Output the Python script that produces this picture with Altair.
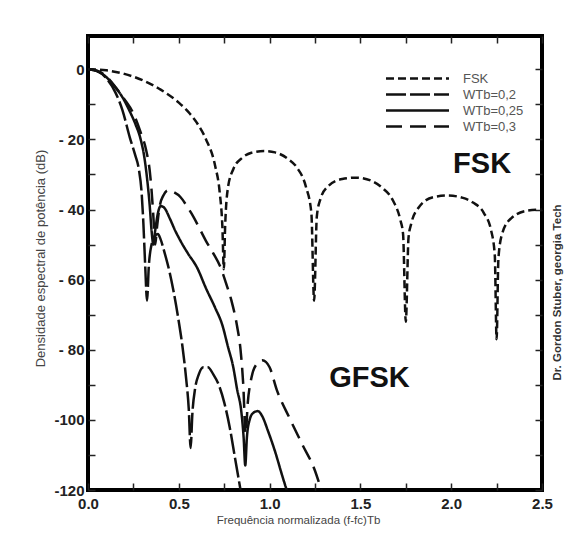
import altair as alt
import pandas as pd

series_names = ["FSK", "WTb=0,2", "WTb=0,25", "WTb=0,3"]

fsk_x = [0.0, 0.1, 0.2, 0.3, 0.4, 0.5, 0.55, 0.6, 0.65, 0.7, 0.725, 0.74, 0.748, 0.755, 0.77,
         0.8, 0.85, 0.9, 0.97, 1.03, 1.1, 1.15, 1.2, 1.23, 1.245, 1.26, 1.28, 1.32, 1.4, 1.48,
         1.56, 1.62, 1.68, 1.72, 1.735, 1.75, 1.765, 1.78, 1.82, 1.9, 1.98, 2.06, 2.12, 2.18,
         2.22, 2.24, 2.25, 2.26, 2.28, 2.33, 2.42, 2.5]
fsk_y = [0, -0.3, -1.3, -3.1, -5.8, -9.5, -12, -15.3, -20, -27.5, -35, -45, -57, -45, -34,
         -28.5, -25.2, -23.8, -23.3, -23.7, -25.5, -28, -33.5, -41, -66, -42, -37, -33.5, -31.3, -30.9,
         -31.8, -33.8, -37.5, -43, -47, -72, -48, -44, -39.5, -36.5, -36, -36.6, -38, -41,
         -46, -53, -77, -54, -47, -42.5, -40.3, -40]

g20_x = [0.0, 0.05, 0.1, 0.15, 0.19, 0.23, 0.26, 0.28, 0.295, 0.305, 0.315, 0.325, 0.335, 0.35,
         0.37, 0.385, 0.4, 0.42, 0.45, 0.47, 0.5, 0.52, 0.54, 0.555, 0.565, 0.575, 0.59, 0.61,
         0.635, 0.66, 0.69, 0.72, 0.75, 0.78, 0.81, 0.84]
g20_y = [0, -0.5, -2.5, -6.5, -11.7, -19.4, -24.5, -28.5, -35, -44, -56, -66, -56, -50,
         -47.5, -47, -48.5, -52, -58, -63, -72, -79, -88, -97, -108, -98, -91, -87,
         -85, -85, -87, -90, -95, -102, -111, -120]

g25_x = [0.0, 0.05, 0.1, 0.14, 0.19, 0.23, 0.26, 0.29, 0.31, 0.325, 0.34, 0.35, 0.36, 0.37,
         0.385, 0.4, 0.42, 0.45, 0.48, 0.51, 0.55, 0.6, 0.65, 0.7, 0.74, 0.77, 0.8, 0.82,
         0.845, 0.857, 0.866, 0.875, 0.89, 0.91, 0.935, 0.96, 0.99, 1.03, 1.07, 1.1]
g25_y = [0, -0.5, -2.2, -4.5, -8, -12, -15.5, -20, -25, -31, -39, -46, -50, -46,
         -41, -39, -39.5, -42.5, -46, -49, -52.5, -56.5, -62.5, -68, -73, -79, -85, -91,
         -98, -105, -113, -105, -100, -98, -97.5, -99, -103, -109, -116, -121]

g30_x = [0.0, 0.05, 0.1, 0.15, 0.2, 0.25, 0.29, 0.32, 0.34, 0.35, 0.36, 0.37, 0.38, 0.395,
         0.415, 0.44, 0.47, 0.51, 0.55, 0.58, 0.62, 0.65, 0.69, 0.73, 0.76, 0.79, 0.82, 0.84,
         0.855, 0.868, 0.88, 0.9, 0.93, 0.96, 1.0, 1.04, 1.11, 1.18, 1.25, 1.29]
g30_y = [0, -0.4, -2, -5, -8.5, -12.6, -18, -23, -29, -34.5, -42, -50, -45, -39,
         -36, -34.5, -35, -36.5, -39.5, -42, -46, -49, -52.5, -56.5, -61, -66, -73, -80,
         -90, -104, -95, -88, -84, -83, -85, -91.5, -99.5, -107, -114.5, -121]

annot_text = ["FSK", "GFSK"]
annot_x = [2.17, 1.55]
annot_y = [-27, -88]

x_tick_values = [0.0, 0.25, 0.5, 0.75, 1.0, 1.25, 1.5, 1.75, 2.0, 2.25, 2.5]
y_tick_values = [-120, -110, -100, -90, -80, -70, -60, -50, -40, -30, -20, -10, 0]

rows = []
for name, xs, ys in zip(series_names, [fsk_x, g20_x, g25_x, g30_x], [fsk_y, g20_y, g25_y, g30_y]):
    for i, (a, b) in enumerate(zip(xs, ys)):
        rows.append({"serie": name, "f": a, "db": b, "ordem": i})
df = pd.DataFrame(rows)
ann = pd.DataFrame({"txt": annot_text, "f": annot_x, "db": annot_y})

FONT = "Liberation Sans, Arial, sans-serif"
xscale = alt.Scale(domain=[0, 2.5], nice=False, zero=False)
yscale = alt.Scale(domain=[-120, 9.5], nice=False, zero=False)

x_bottom = alt.Axis(
    orient="bottom", values=x_tick_values, offset=-7, tickSize=7, tickWidth=1.5, tickColor="#222",
    domain=False, grid=False, labelOverlap=False, labelFlush=False,
    labelExpr="(round(datum.value*4) % 2 == 1) ? '' : format(datum.value, '.1f')",
    labelPadding=13, labelBaseline="middle", labelFont=FONT, labelFontSize=15,
    labelFontWeight="bold", labelColor="#222",
    title="Frequência normalizada (f-fc)Tb", titleX=210, titleY=37, titleBaseline="middle",
    titleAlign="center", titleFont=FONT, titleFontSize=11.5, titleFontWeight="normal",
    titleColor="#444",
)
y_left = alt.Axis(
    orient="left", values=y_tick_values, offset=-7, tickSize=7, tickWidth=1.5, tickColor="#222",
    domain=False, grid=False, labelOverlap=False,
    labelExpr="(datum.value % 20 != 0) ? '' : (datum.value == 0 ? '0' : (datum.value > -100 ? '- ' + format(abs(datum.value), 'd') : '-' + format(abs(datum.value), 'd')))",
    labelPadding=4, labelFont=FONT, labelFontSize=15, labelFontWeight="bold", labelColor="#222",
    title="Densidade espectral de potência (dB)", titleX=-55, titleY=222, titleAngle=270,
    titleBaseline="middle", titleAlign="center", titleFont=FONT, titleFontSize=13,
    titleFontWeight="normal", titleColor="#444",
)
x_top = alt.Axis(
    orient="top", values=x_tick_values, offset=-7, tickSize=7, tickWidth=1.5, tickColor="#222",
    domain=False, grid=False, labels=False, title=None,
)
y_right = alt.Axis(
    orient="right", values=y_tick_values, offset=-7, tickSize=7, tickWidth=1.5, tickColor="#222",
    domain=False, grid=False, labels=False,
    title="Dr. Gordon Stuber, georgia Tech", titleX=22, titleY=256, titleAngle=270,
    titleBaseline="middle", titleAlign="center", titleFont=FONT, titleFontSize=11.5,
    titleFontWeight="bold", titleColor="#333",
)

lines = alt.Chart(df).mark_line(color="#111", clip=True, interpolate="monotone").encode(
    x=alt.X("f:Q", scale=xscale, axis=x_bottom),
    y=alt.Y("db:Q", scale=yscale, axis=y_left),
    detail="serie:N",
    order="ordem:Q",
    strokeDash=alt.StrokeDash(
        "serie:N",
        scale=alt.Scale(domain=series_names, range=[[8, 4], [20, 4], [1, 0], [16, 8]]),
        legend=alt.Legend(
            title=None, orient="none", legendX=321, legendY=34,
            symbolType="M-4.5,0H4.5", symbolSize=196, symbolStrokeWidth=3,
            symbolStrokeColor="#111", labelOffset=37, labelFont=FONT, labelFontSize=13,
            labelColor="#555", rowPadding=0, padding=0,
        ),
    ),
    strokeWidth=alt.StrokeWidth(
        "serie:N", scale=alt.Scale(domain=series_names, range=[2.5, 2.5, 2, 2.5]), legend=None
    ),
)

text = alt.Chart(ann).mark_text(
    font=FONT, fontSize=29, fontWeight="bold", color="#111", align="center", baseline="middle"
).encode(
    x=alt.X("f:Q", scale=xscale, axis=x_top),
    y=alt.Y("db:Q", scale=yscale, axis=y_right),
    text="txt:N",
)

chart = (
    alt.layer(lines, text)
    .resolve_axis(x="independent", y="independent")
    .properties(
        width=454, height=454,
        padding={"left": 80, "top": 28, "right": 29, "bottom": 38},
        autosize=alt.AutoSizeParams(type="none"),
        background="white",
    )
    .configure_view(stroke="#000", strokeWidth=4)
)

chart.save("out.html", embed_options={"renderer": "svg", "actions": False})
